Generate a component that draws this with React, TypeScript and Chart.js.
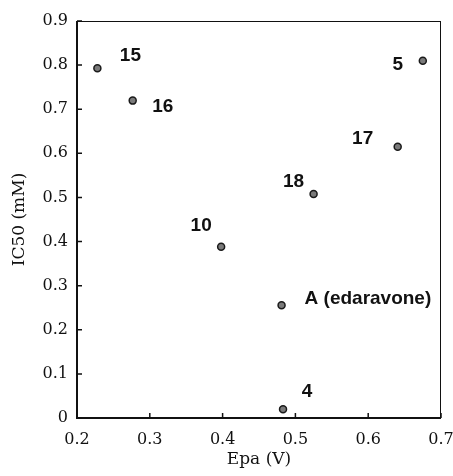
import React, { useEffect, useRef } from "react";
import { Chart, registerables } from "chart.js";

Chart.register(...registerables);

const compoundLabels = ["15", "16", "5", "17", "18", "10", "A (edaravone)", "4"];
const epaValues = [0.228, 0.2765, 0.675, 0.6405, 0.525, 0.398, 0.481, 0.483];
const ic50Values = [0.793, 0.7195, 0.81, 0.615, 0.508, 0.388, 0.2555, 0.0197];
const xTickValues = [0.2, 0.3, 0.4, 0.5, 0.6, 0.7];
const yTickValues = [0, 0.1, 0.2, 0.3, 0.4, 0.5, 0.6, 0.7, 0.8, 0.9];

// label offsets in pixels relative to the point (dx, dy, align)
const labelOffsets: [number, number, CanvasTextAlign][] = [
  [33, -12, "center"],
  [30, 6, "center"],
  [-25, 4, "center"],
  [-35, -8, "center"],
  [-20, -12, "center"],
  [-20, -21, "center"],
  [23, -7, "left"],
  [24, -18, "center"],
];

const SERIF = "'DejaVu Serif', 'Liberation Serif', serif";

const framePlugin = {
  id: "frame",
  afterDraw(chart: any) {
    const { ctx, chartArea } = chart;
    const xs = chart.scales.x;
    const ys = chart.scales.y;
    ctx.save();
    ctx.strokeStyle = "#111";
    ctx.lineWidth = 1;
    ctx.beginPath();
    ctx.moveTo(chartArea.left, chartArea.top + 0.5);
    ctx.lineTo(chartArea.right, chartArea.top + 0.5);
    ctx.moveTo(chartArea.right - 0.5, chartArea.top);
    ctx.lineTo(chartArea.right - 0.5, chartArea.bottom);
    ctx.stroke();
    ctx.lineWidth = 2;
    ctx.beginPath();
    ctx.moveTo(chartArea.left, chartArea.top);
    ctx.lineTo(chartArea.left, chartArea.bottom);
    ctx.lineTo(chartArea.right, chartArea.bottom);
    ctx.stroke();
    ctx.lineWidth = 1.5;
    ctx.beginPath();
    xTickValues.forEach((v) => {
      const px = xs.getPixelForValue(v);
      ctx.moveTo(px, chartArea.bottom);
      ctx.lineTo(px, chartArea.bottom - 5);
    });
    yTickValues.forEach((v) => {
      const py = ys.getPixelForValue(v);
      ctx.moveTo(chartArea.left, py);
      ctx.lineTo(chartArea.left + 5, py);
    });
    ctx.stroke();
    ctx.fillStyle = "#111";
    ctx.font = "bold 19px 'Liberation Sans', Arial, sans-serif";
    ctx.textBaseline = "middle";
    compoundLabels.forEach((lab, i) => {
      const px = xs.getPixelForValue(epaValues[i]);
      const py = ys.getPixelForValue(ic50Values[i]);
      const [dx, dy, align] = labelOffsets[i];
      ctx.textAlign = align;
      ctx.fillText(lab, px + dx, py + dy);
    });
    ctx.restore();
  },
};

export default function App() {
  const ref = useRef<HTMLCanvasElement>(null);
  useEffect(() => {
    document.body.style.margin = "0";
    const chart = new Chart(ref.current!, {
      type: "scatter",
      data: {
        datasets: [
          {
            data: epaValues.map((x, i) => ({ x, y: ic50Values[i] })),
            backgroundColor: "#7a7a7a",
            borderColor: "#1a1a1a",
            borderWidth: 1.5,
            pointRadius: 3.5,
          },
        ],
      },
      options: {
        animation: false,
        responsive: false,
        layout: { padding: { top: 21, right: 12, left: 0, bottom: 0 } },
        plugins: { legend: { display: false }, tooltip: { enabled: false } },
        scales: {
          x: {
            type: "linear",
            min: 0.2,
            max: 0.7,
            afterBuildTicks: (s: any) => {
              s.ticks = xTickValues.map((value) => ({ value }));
            },
            afterFit: (s: any) => {
              s.height = 58;
              s.paddingRight = 0;
              s.paddingLeft = 0;
            },
            grid: { display: false, drawTicks: false, tickLength: 0 },
            border: { display: false },
            ticks: {
              color: "#111",
              font: { family: SERIF, size: 16 },
              padding: 12,
              callback: (v: any) => (v === 0 ? "0" : Number(v).toFixed(1)),
            },
            title: {
              display: true,
              text: "Epa (V)",
              color: "#111",
              font: { family: SERIF, size: 17 },
              padding: { top: 0, bottom: 6 },
            },
          },
          y: {
            type: "linear",
            min: 0,
            max: 0.9,
            afterBuildTicks: (s: any) => {
              s.ticks = yTickValues.map((value) => ({ value }));
            },
            afterFit: (s: any) => {
              s.width = 77;
              s.paddingTop = 0;
              s.paddingBottom = 0;
            },
            grid: { display: false, drawTicks: false, tickLength: 0 },
            border: { display: false },
            ticks: {
              color: "#111",
              font: { family: SERIF, size: 16 },
              padding: 9,
              callback: (v: any) => (v === 0 ? "0" : Number(v).toFixed(1)),
            },
            title: {
              display: true,
              text: "IC50 (mM)",
              color: "#111",
              font: { family: SERIF, size: 17 },
              padding: { top: 9, bottom: 0 },
            },
          },
        },
      },
      plugins: [framePlugin],
    });
    return () => chart.destroy();
  }, []);
  return (
    <div style={{ width: 453, height: 476, background: "#fff" }}>
      <canvas ref={ref} width={453} height={476} />
    </div>
  );
}
